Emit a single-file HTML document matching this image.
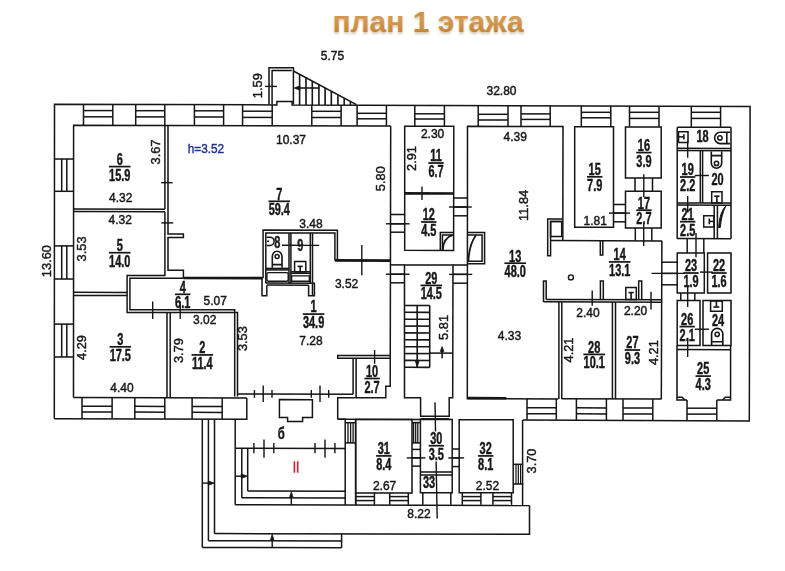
<!DOCTYPE html>
<html><head><meta charset="utf-8"><title>план 1 этажа</title>
<style>
html,body{margin:0;padding:0;background:#fff;}
body{width:785px;height:571px;overflow:hidden;position:relative;font-family:"Liberation Sans",sans-serif;}
svg{position:absolute;left:0;top:0;display:block;}
svg text{font-family:"Liberation Sans",sans-serif;fill:#161616;}
text.d{stroke:#161616;stroke-width:0.42px;}
text.b{stroke:#161616;stroke-width:0.45px;}
</style></head><body>
<svg width="785" height="571" viewBox="0 0 785 571">
<defs>
<linearGradient id="tg" x1="0" y1="0" x2="0" y2="1">
<stop offset="0" stop-color="#b87a30"/><stop offset="0.4" stop-color="#d69b50"/><stop offset="0.75" stop-color="#c98a3c"/><stop offset="1" stop-color="#ad6f26"/>
</linearGradient>
<filter id="bl" x="-2%" y="-2%" width="104%" height="104%" filterUnits="userSpaceOnUse" primitiveUnits="userSpaceOnUse"><feGaussianBlur stdDeviation="0.38"/></filter>
<filter id="sh" x="-5%" y="-20%" width="110%" height="150%"><feGaussianBlur stdDeviation="1.2"/></filter>
</defs>
<rect x="0" y="0" width="785" height="571" fill="#ffffff"/>
<text x="428" y="33.6" text-anchor="middle" font-size="30" font-weight="bold" style="fill:#c9b9a0" opacity="0.8" filter="url(#sh)">план 1 этажа</text>
<text x="428" y="32.3" text-anchor="middle" font-size="30" font-weight="bold" style="fill:url(#tg)">план 1 этажа</text>
<g filter="url(#bl)">
<g stroke="#141414" fill="none" stroke-linecap="butt" stroke-linejoin="miter">
<path d="M54.3 418.8 L54.5 104.3 L276.9 104.9 L276.9 101.4 L292.1 101.4 L292.1 105.0 L750.1 106.4 L749.3 420.9 L522.8 420.0" stroke-width="1.5" fill="none"/>
<path d="M54.3 418.8 L246.8 419.3 L246.8 398.0" stroke-width="1.5" fill="none"/>
<path d="M73.5 397.6 L73.6 125.2 L390.7 126.1" stroke-width="1.5" fill="none"/>
<path d="M73.5 397.6 L246.8 398.1" stroke-width="1.5" fill="none"/>
<path d="M83.5 104.5 L83.5 125.1" stroke-width="1.5" fill="none"/>
<path d="M112.8 104.5 L112.8 125.1" stroke-width="1.5" fill="none"/>
<path d="M83.5 110.6 L112.8 110.6" stroke-width="1.5" fill="none"/>
<path d="M83.5 116.8 L112.8 116.8" stroke-width="1.5" fill="none"/>
<path d="M135.7 104.6 L135.7 125.3" stroke-width="1.5" fill="none"/>
<path d="M164.8 104.6 L164.8 125.3" stroke-width="1.5" fill="none"/>
<path d="M135.7 110.7 L164.8 110.7" stroke-width="1.5" fill="none"/>
<path d="M135.7 116.9 L164.8 116.9" stroke-width="1.5" fill="none"/>
<path d="M194.4 104.8 L194.4 125.5" stroke-width="1.5" fill="none"/>
<path d="M223.6 104.8 L223.6 125.5" stroke-width="1.5" fill="none"/>
<path d="M194.4 110.8 L223.6 110.8" stroke-width="1.5" fill="none"/>
<path d="M194.4 117.0 L223.6 117.0" stroke-width="1.5" fill="none"/>
<path d="M242.6 104.9 L242.6 125.6" stroke-width="1.5" fill="none"/>
<path d="M272.2 104.9 L272.2 125.6" stroke-width="1.5" fill="none"/>
<path d="M242.6 111.2 L272.2 111.2" stroke-width="1.5" fill="none"/>
<path d="M242.6 117.4 L272.2 117.4" stroke-width="1.5" fill="none"/>
<path d="M311.8 105.1 L311.8 125.8" stroke-width="1.5" fill="none"/>
<path d="M341.1 105.1 L341.1 125.8" stroke-width="1.5" fill="none"/>
<path d="M311.8 111.3 L341.1 111.3" stroke-width="1.5" fill="none"/>
<path d="M311.8 117.5 L341.1 117.5" stroke-width="1.5" fill="none"/>
<path d="M357.1 105.3 L357.1 125.9" stroke-width="1.5" fill="none"/>
<path d="M386.4 105.3 L386.4 125.9" stroke-width="1.5" fill="none"/>
<path d="M357.1 113.3 L386.4 113.3" stroke-width="1.5" fill="none"/>
<path d="M357.1 118.8 L386.4 118.8" stroke-width="1.5" fill="none"/>
<path d="M414.8 105.4 L414.8 126.1" stroke-width="1.5" fill="none"/>
<path d="M444.4 105.4 L444.4 126.1" stroke-width="1.5" fill="none"/>
<path d="M414.8 113.8 L444.4 113.8" stroke-width="1.5" fill="none"/>
<path d="M414.8 119.0 L444.4 119.0" stroke-width="1.5" fill="none"/>
<path d="M478.2 105.6 L478.2 126.3" stroke-width="1.5" fill="none"/>
<path d="M508.0 105.6 L508.0 126.3" stroke-width="1.5" fill="none"/>
<path d="M478.2 114.3 L508.0 114.3" stroke-width="1.5" fill="none"/>
<path d="M478.2 120.0 L508.0 120.0" stroke-width="1.5" fill="none"/>
<path d="M521.0 105.8 L521.0 126.4" stroke-width="1.5" fill="none"/>
<path d="M550.2 105.8 L550.2 126.4" stroke-width="1.5" fill="none"/>
<path d="M521.0 113.9 L550.2 113.9" stroke-width="1.5" fill="none"/>
<path d="M521.0 119.4 L550.2 119.4" stroke-width="1.5" fill="none"/>
<path d="M581.3 105.9 L581.3 126.6" stroke-width="1.5" fill="none"/>
<path d="M610.8 105.9 L610.8 126.6" stroke-width="1.5" fill="none"/>
<path d="M581.3 112.3 L610.8 112.3" stroke-width="1.5" fill="none"/>
<path d="M581.3 117.8 L610.8 117.8" stroke-width="1.5" fill="none"/>
<path d="M629.5 106.1 L629.5 126.7" stroke-width="1.5" fill="none"/>
<path d="M659.0 106.1 L659.0 126.7" stroke-width="1.5" fill="none"/>
<path d="M629.5 112.3 L659.0 112.3" stroke-width="1.5" fill="none"/>
<path d="M629.5 118.4 L659.0 118.4" stroke-width="1.5" fill="none"/>
<path d="M691.3 106.2 L691.3 126.9" stroke-width="1.5" fill="none"/>
<path d="M720.6 106.2 L720.6 126.9" stroke-width="1.5" fill="none"/>
<path d="M691.3 112.3 L720.6 112.3" stroke-width="1.5" fill="none"/>
<path d="M691.3 118.4 L720.6 118.4" stroke-width="1.5" fill="none"/>
<path d="M54.3 159.0 L73.4 159.0" stroke-width="1.5" fill="none"/>
<path d="M54.3 191.3 L73.4 191.3" stroke-width="1.5" fill="none"/>
<path d="M61.7 159.0 L61.7 191.3" stroke-width="1.5" fill="none"/>
<path d="M66.8 159.0 L66.8 191.3" stroke-width="1.5" fill="none"/>
<path d="M54.3 245.9 L73.4 245.9" stroke-width="1.5" fill="none"/>
<path d="M54.3 279.0 L73.4 279.0" stroke-width="1.5" fill="none"/>
<path d="M61.7 245.9 L61.7 279.0" stroke-width="1.5" fill="none"/>
<path d="M66.8 245.9 L66.8 279.0" stroke-width="1.5" fill="none"/>
<path d="M54.3 324.1 L73.4 324.1" stroke-width="1.5" fill="none"/>
<path d="M54.3 357.0 L73.4 357.0" stroke-width="1.5" fill="none"/>
<path d="M61.7 324.1 L61.7 357.0" stroke-width="1.5" fill="none"/>
<path d="M66.8 324.1 L66.8 357.0" stroke-width="1.5" fill="none"/>
<path d="M82.0 397.6 L82.0 418.8" stroke-width="1.5" fill="none"/>
<path d="M112.1 397.6 L112.1 418.8" stroke-width="1.5" fill="none"/>
<path d="M82.0 406.2 L112.1 406.3" stroke-width="1.5" fill="none"/>
<path d="M82.0 412.0 L112.1 412.1" stroke-width="1.5" fill="none"/>
<path d="M134.8 397.8 L134.8 419.0" stroke-width="1.5" fill="none"/>
<path d="M164.8 397.8 L164.8 419.0" stroke-width="1.5" fill="none"/>
<path d="M134.8 406.3 L164.8 406.4" stroke-width="1.5" fill="none"/>
<path d="M134.8 412.1 L164.8 412.2" stroke-width="1.5" fill="none"/>
<path d="M192.1 397.9 L192.1 419.1" stroke-width="1.5" fill="none"/>
<path d="M222.2 397.9 L222.2 419.1" stroke-width="1.5" fill="none"/>
<path d="M192.1 406.5 L222.2 406.6" stroke-width="1.5" fill="none"/>
<path d="M192.1 412.3 L222.2 412.4" stroke-width="1.5" fill="none"/>
<path d="M527.0 398.8 L527.0 419.9" stroke-width="1.5" fill="none"/>
<path d="M556.3 398.8 L556.3 419.9" stroke-width="1.5" fill="none"/>
<path d="M527.0 407.7 L556.3 407.8" stroke-width="1.5" fill="none"/>
<path d="M527.0 413.7 L556.3 413.8" stroke-width="1.5" fill="none"/>
<path d="M576.4 399.0 L576.4 420.1" stroke-width="1.5" fill="none"/>
<path d="M606.4 399.0 L606.4 420.1" stroke-width="1.5" fill="none"/>
<path d="M576.4 407.8 L606.4 407.9" stroke-width="1.5" fill="none"/>
<path d="M576.4 413.8 L606.4 413.9" stroke-width="1.5" fill="none"/>
<path d="M623.0 399.1 L623.0 420.3" stroke-width="1.5" fill="none"/>
<path d="M652.8 399.1 L652.8 420.3" stroke-width="1.5" fill="none"/>
<path d="M623.0 408.0 L652.8 408.0" stroke-width="1.5" fill="none"/>
<path d="M623.0 414.0 L652.8 414.0" stroke-width="1.5" fill="none"/>
<path d="M687.0 400.0 L687.0 420.4" stroke-width="1.5" fill="none"/>
<path d="M716.8 400.0 L716.8 420.5" stroke-width="1.5" fill="none"/>
<path d="M687.0 408.2 L716.8 408.2" stroke-width="1.5" fill="none"/>
<path d="M687.0 414.1 L716.8 414.1" stroke-width="1.5" fill="none"/>
<path d="M269.0 104.3 L269.0 67.7 L293.4 67.7 L293.4 104.4" stroke-width="1.5" fill="none"/>
<path d="M272.1 104.3 L272.1 70.5 L291.8 70.5" stroke-width="1.5" fill="none"/>
<path d="M293.4 71.0 L356.4 104.7" stroke-width="1.5" fill="none"/>
<path d="M299.6 74.3 L299.6 105.0" stroke-width="1.6" fill="none"/>
<path d="M306.0 77.7 L306.0 105.0" stroke-width="1.6" fill="none"/>
<path d="M312.3 81.1 L312.3 105.0" stroke-width="1.6" fill="none"/>
<path d="M318.9 84.6 L318.9 105.0" stroke-width="1.6" fill="none"/>
<path d="M325.1 88.0 L325.1 105.0" stroke-width="1.6" fill="none"/>
<path d="M331.3 91.3 L331.3 105.0" stroke-width="1.6" fill="none"/>
<path d="M337.9 94.8 L337.9 105.0" stroke-width="1.6" fill="none"/>
<path d="M344.2 98.2 L344.2 105.0" stroke-width="1.6" fill="none"/>
<path d="M350.4 101.5 L350.4 105.0" stroke-width="1.6" fill="none"/>
<path d="M296.0 88.0 L319.5 88.0" stroke-width="1.5" fill="none"/>
<path d="M294.2 88.0 L300.0 85.8 L300.0 90.2 Z" stroke-width="0.8" fill="#141414"/>
<path d="M265.0 86.4 L277.0 86.4" stroke-width="1.4" fill="none"/>
<path d="M73.4 209.0 L164.9 209.2" stroke-width="1.5" fill="none"/>
<path d="M73.4 211.6 L164.9 211.8" stroke-width="1.5" fill="none"/>
<path d="M164.9 125.4 L164.9 209.1" stroke-width="1.5" fill="none"/>
<path d="M164.9 211.7 L164.9 275.4 L127.1 275.4 L127.1 312.5 L237.5 312.5 L237.5 396.4" stroke-width="1.5" fill="none"/>
<path d="M168.0 125.4 L168.0 234.0 L183.4 234.0 L183.4 237.6 L168.0 237.6 L168.0 270.2 L183.4 270.2 L183.4 278.2" stroke-width="1.5" fill="none"/>
<path d="M161.4 222.9 L173.2 222.9" stroke-width="1.4" fill="none"/>
<path d="M161.2 182.7 L172.6 182.7" stroke-width="1.4" fill="none"/>
<path d="M73.4 292.3 L127.1 292.5" stroke-width="1.5" fill="none"/>
<path d="M73.4 295.4 L127.1 295.6" stroke-width="1.5" fill="none"/>
<path d="M183.4 278.2 L129.9 278.2 L129.9 309.7 L234.7 309.7 L234.7 396.4" stroke-width="1.5" fill="none"/>
<path d="M183.4 278.0 L262.0 278.2" stroke-width="2.7" fill="none"/>
<path d="M152.7 301.4 L152.7 319.1" stroke-width="1.4" fill="none"/>
<path d="M180.2 301.4 L180.2 319.1" stroke-width="1.4" fill="none"/>
<path d="M167.0 312.5 L167.0 397.5" stroke-width="1.5" fill="none"/>
<path d="M170.2 312.5 L170.2 397.5" stroke-width="1.5" fill="none"/>
<path d="M263.1 278.0 L263.1 230.1 L337.4 230.2 L337.4 260.4" stroke-width="1.5" fill="none"/>
<path d="M265.8 283.2 L265.8 233.1 L334.9 233.1 L334.9 260.4" stroke-width="1.5" fill="none"/>
<path d="M334.9 260.4 L390.4 260.6" stroke-width="2.7" fill="none"/>
<path d="M361.8 245.0 L361.8 275.3" stroke-width="1.4" fill="none"/>
<path d="M289.0 233.1 L289.0 283.2" stroke-width="1.5" fill="none"/>
<path d="M290.9 233.1 L290.9 283.2" stroke-width="1.5" fill="none"/>
<path d="M310.3 233.1 L310.3 283.2" stroke-width="1.5" fill="none"/>
<path d="M312.5 233.1 L312.5 295.7" stroke-width="1.5" fill="none"/>
<path d="M265.8 268.4 L289.0 268.4" stroke-width="1.5" fill="none"/>
<path d="M265.8 269.9 L289.0 269.9" stroke-width="1.5" fill="none"/>
<path d="M290.9 271.8 L310.3 271.8" stroke-width="1.5" fill="none"/>
<path d="M290.9 273.3 L310.3 273.3" stroke-width="1.5" fill="none"/>
<rect x="266.9" y="272.6" width="21.3" height="8.6" rx="1.5" stroke-width="1.4" fill="none"/>
<path d="M291.6 275.9 L309.4 275.9 L309.4 281.2 L291.6 281.2 Z" stroke-width="1.4" fill="none"/>
<path d="M265.8 283.1 L312.5 283.3" stroke-width="1.5" fill="none"/>
<path d="M266.8 285.1 L308.6 285.3" stroke-width="1.5" fill="none"/>
<path d="M263.1 278.0 L262.0 278.0 L262.0 295.7 L266.8 295.7 L266.8 285.2" stroke-width="1.5" fill="none"/>
<path d="M308.6 285.2 L308.6 295.7 L314.4 295.7 L314.4 283.2 L312.5 283.2" stroke-width="1.5" fill="none"/>
<path d="M282.0 245.2 L319.2 245.4" stroke-width="1.4" fill="none"/>
<path d="M266.6 237.2 H270 A4.1 4.1 0 0 1 270 245.4 H266.6" stroke-width="1.5" fill="none"/>
<circle cx="268" cy="241.3" r="1.0" fill="#141414" stroke="none"/>
<path d="M272.3 267.8 V256.4 A4.85 5.1 0 0 1 282 256.4 V267.8 M272.3 264.6 H282" stroke-width="1.6" fill="none"/>
<circle cx="277.1" cy="256.6" r="2.0" stroke-width="1.5" fill="none"/>
<path d="M294.6 261.4 L305.8 261.4 L305.8 272.0 L294.6 272.0 Z" stroke-width="1.5" fill="none"/>
<path d="M297.6 266.4 L302.8 266.4" stroke-width="1.6" fill="none"/>
<path d="M300.2 266.4 L300.2 272.0" stroke-width="1.6" fill="none"/>
<path d="M390.7 126.1 L390.2 386.2 L385.8 386.2 L385.8 397.8 L337.7 397.8 L337.7 419.3" stroke-width="1.5" fill="none"/>
<path d="M337.7 419.3 L420.5 419.5" stroke-width="1.5" fill="none"/>
<path d="M237.5 393.9 L353.3 394.3" stroke-width="1.5" fill="none"/>
<path d="M254.4 390.0 L254.4 397.8" stroke-width="1.4" fill="none"/>
<path d="M272.0 390.0 L272.0 397.8" stroke-width="1.4" fill="none"/>
<path d="M311.3 390.0 L311.3 397.8" stroke-width="1.4" fill="none"/>
<path d="M328.7 390.0 L328.7 397.8" stroke-width="1.4" fill="none"/>
<path d="M263.2 385.4 L263.2 402.0" stroke-width="1.4" fill="none"/>
<path d="M320.0 385.4 L320.0 402.0" stroke-width="1.4" fill="none"/>
<path d="M390.0 355.5 L337.7 355.5 L337.7 358.3 L390.0 358.3" stroke-width="1.5" fill="none"/>
<path d="M353.1 358.3 L353.1 393.9" stroke-width="1.5" fill="none"/>
<path d="M356.1 358.3 L356.1 397.8" stroke-width="1.5" fill="none"/>
<path d="M374.6 350.0 L374.6 363.8" stroke-width="1.4" fill="none"/>
<path d="M404.7 250.3 L404.7 126.2 L453.8 126.3 L453.6 250.4 Z" stroke-width="1.5" fill="none"/>
<path d="M404.7 193.3 L453.8 193.5" stroke-width="2.7" fill="none"/>
<path d="M422.0 186.5 L422.0 199.9" stroke-width="1.4" fill="none"/>
<path d="M404.5 264.9 L404.5 397.8 L420.6 397.8 L420.6 416.2 L449.2 416.2 L449.2 397.8 L452.7 397.8 L453.0 265.1 Z" stroke-width="1.5" fill="none"/>
<path d="M420.6 418.8 L449.2 418.8" stroke-width="1.5" fill="none"/>
<path d="M390.5 214.5 L404.6 214.5" stroke-width="1.5" fill="none"/>
<path d="M390.5 223.8 L404.6 223.8" stroke-width="1.5" fill="none"/>
<path d="M390.5 232.2 L404.6 232.2" stroke-width="1.5" fill="none"/>
<path d="M385.9 223.8 L409.6 223.8" stroke-width="1.4" fill="none"/>
<path d="M390.4 274.2 L404.5 274.2" stroke-width="1.5" fill="none"/>
<path d="M390.4 282.8 L404.5 282.8" stroke-width="1.5" fill="none"/>
<path d="M390.4 264.9 L404.5 264.9" stroke-width="1.5" fill="none"/>
<path d="M385.9 274.2 L409.6 274.2" stroke-width="1.4" fill="none"/>
<path d="M453.7 198.0 L467.6 198.0" stroke-width="1.5" fill="none"/>
<path d="M453.7 207.0 L467.6 207.0" stroke-width="1.5" fill="none"/>
<path d="M453.7 215.8 L467.6 215.8" stroke-width="1.5" fill="none"/>
<path d="M449.0 207.0 L471.8 207.0" stroke-width="1.4" fill="none"/>
<path d="M453.0 265.0 L467.6 265.0" stroke-width="1.5" fill="none"/>
<path d="M453.0 274.3 L467.6 274.3" stroke-width="1.5" fill="none"/>
<path d="M453.0 283.2 L467.6 283.2" stroke-width="1.5" fill="none"/>
<path d="M449.2 274.4 L472.2 274.4" stroke-width="1.4" fill="none"/>
<path d="M453.6 232.6 L440.3 232.6 L440.3 250.3" stroke-width="1.5" fill="none"/>
<path d="M453.6 234.9 L442.4 234.9 L442.4 250.3" stroke-width="1.5" fill="none"/>
<path d="M442.8 250 Q443.3 238 452.5 235.2" stroke-width="1.8" fill="none"/>
<path d="M467.6 232.6 L484.6 232.6 L484.6 263.7 L467.6 263.7" stroke-width="1.5" fill="none"/>
<path d="M467.6 234.9 L482.1 234.9 L482.1 261.2 L467.6 261.2" stroke-width="1.5" fill="none"/>
<path d="M468.4 261 Q469.2 244 476 235.2" stroke-width="1.8" fill="none"/>
<path d="M404.6 305.5 L429.7 305.5" stroke-width="1.6" fill="none"/>
<path d="M404.6 312.3 L429.7 312.4" stroke-width="1.6" fill="none"/>
<path d="M404.6 319.2 L429.7 319.3" stroke-width="1.6" fill="none"/>
<path d="M404.6 326.1 L429.7 326.1" stroke-width="1.6" fill="none"/>
<path d="M404.6 332.9 L429.7 333.0" stroke-width="1.6" fill="none"/>
<path d="M404.6 339.8 L429.7 339.9" stroke-width="1.6" fill="none"/>
<path d="M404.6 346.7 L429.7 346.8" stroke-width="1.6" fill="none"/>
<path d="M404.6 353.6 L429.7 353.6" stroke-width="1.6" fill="none"/>
<path d="M404.6 360.4 L429.7 360.5" stroke-width="1.6" fill="none"/>
<path d="M404.6 367.3 L429.7 367.4" stroke-width="1.6" fill="none"/>
<path d="M417.2 305.5 L417.2 367.3" stroke-width="1.6" fill="none"/>
<path d="M429.7 305.5 L429.7 367.3" stroke-width="1.6" fill="none"/>
<path d="M417.2 367.3 L415.4 361.0 L419.0 361.0 Z" stroke-width="0.8" fill="#141414"/>
<path d="M429.7 353.1 L452.7 353.1" stroke-width="1.5" fill="none"/>
<path d="M442.1 349.0 L442.1 358.3" stroke-width="1.5" fill="none"/>
<path d="M442.1 346.6 L440.3 351.6 L443.9 351.6 Z" stroke-width="0.8" fill="#141414"/>
<path d="M558.3 398.9 L467.3 398.6 L467.5 126.3 L563.0 126.6 L562.8 240.8" stroke-width="1.5" fill="none"/>
<path d="M467.3 398.1 L506.3 398.3" stroke-width="2.6" fill="none"/>
<path d="M562.7 218.9 L547.7 218.9 L547.7 255.8 L550.6 255.8 L550.6 221.6 L561.7 221.6" stroke-width="1.5" fill="none"/>
<path d="M550.6 221.6 L561.7 221.6 L561.7 236.6 L550.6 236.6 Z" stroke-width="1.5" fill="none"/>
<path d="M550.6 240.6 L661.9 241.0" stroke-width="1.5" fill="none"/>
<path d="M661.9 240.8 L661.3 399.0" stroke-width="1.5" fill="none"/>
<path d="M546.2 299.4 L661.7 299.8" stroke-width="1.5" fill="none"/>
<path d="M543.5 301.8 L661.7 302.2" stroke-width="1.5" fill="none"/>
<path d="M543.5 302.0 L543.5 281.0 L546.2 281.0 L546.2 299.6" stroke-width="1.5" fill="none"/>
<path d="M600.3 240.8 L600.3 254.9 L602.8 254.9 L602.8 240.8" stroke-width="1.5" fill="none"/>
<path d="M600.4 299.6 L600.4 281.0 L603.3 281.0 L603.3 299.6" stroke-width="1.5" fill="none"/>
<path d="M638.7 299.6 L638.7 281.0 L641.7 281.0 L641.7 299.6" stroke-width="1.5" fill="none"/>
<path d="M625.8 287.5 L636.3 287.5 L636.3 299.6 L625.8 299.6 Z" stroke-width="1.5" fill="none"/>
<path d="M628.5 292.6 L633.7 292.6" stroke-width="1.6" fill="none"/>
<path d="M631.1 292.6 L631.1 299.6" stroke-width="1.6" fill="none"/>
<circle cx="570.9" cy="277.4" r="2.5" stroke-width="1.4" fill="none"/>
<path d="M592.2 290.4 L592.2 305.7" stroke-width="1.4" fill="none"/>
<path d="M651.0 291.7 L651.0 309.6" stroke-width="1.4" fill="none"/>
<path d="M558.9 302.0 L558.9 398.9" stroke-width="1.5" fill="none"/>
<path d="M561.8 302.0 L561.8 398.9" stroke-width="1.5" fill="none"/>
<path d="M612.4 302.0 L612.4 398.8" stroke-width="1.5" fill="none"/>
<path d="M615.5 302.0 L615.5 398.8" stroke-width="1.5" fill="none"/>
<path d="M561.8 398.7 L661.7 398.9" stroke-width="1.5" fill="none"/>
<path d="M661.7 262.2 L677.2 262.2" stroke-width="1.5" fill="none"/>
<path d="M661.7 273.4 L677.2 273.4" stroke-width="1.5" fill="none"/>
<path d="M661.7 284.8 L677.2 284.8" stroke-width="1.5" fill="none"/>
<path d="M651.5 273.4 L684.6 273.4" stroke-width="1.4" fill="none"/>
<path d="M574.7 126.7 L613.5 126.7 L613.5 227.2 L574.7 227.2 Z" stroke-width="1.5" fill="none"/>
<path d="M625.5 126.9 L661.2 126.9 L661.2 178.1 L625.5 178.1 Z" stroke-width="1.5" fill="none"/>
<path d="M625.5 191.3 L661.2 191.3 L661.2 228.0 L625.5 228.0 Z" stroke-width="1.5" fill="none"/>
<path d="M635.0 178.1 L635.0 191.3" stroke-width="1.5" fill="none"/>
<path d="M652.5 178.1 L652.5 191.3" stroke-width="1.5" fill="none"/>
<path d="M643.8 174.3 L643.8 197.2" stroke-width="1.4" fill="none"/>
<path d="M613.5 204.5 L625.5 204.5" stroke-width="1.5" fill="none"/>
<path d="M613.5 213.1 L625.5 213.1" stroke-width="1.5" fill="none"/>
<path d="M613.5 221.8 L625.5 221.8" stroke-width="1.5" fill="none"/>
<path d="M609.0 213.1 L630.0 213.1" stroke-width="1.4" fill="none"/>
<path d="M635.3 228.0 L635.3 240.8" stroke-width="1.5" fill="none"/>
<path d="M651.8 228.0 L651.8 240.8" stroke-width="1.5" fill="none"/>
<path d="M643.7 222.9 L643.7 245.9" stroke-width="1.4" fill="none"/>
<path d="M677.2 127.2 L677.2 238.7" stroke-width="1.5" fill="none"/>
<path d="M731.0 127.3 L731.0 238.7" stroke-width="1.5" fill="none"/>
<path d="M677.2 127.2 L731.0 127.3" stroke-width="1.5" fill="none"/>
<path d="M677.2 148.3 L731.0 148.5" stroke-width="1.5" fill="none"/>
<path d="M677.2 150.5 L731.0 150.7" stroke-width="1.5" fill="none"/>
<path d="M700.3 150.6 L700.3 203.0" stroke-width="1.5" fill="none"/>
<path d="M702.6 150.6 L702.6 203.0" stroke-width="1.5" fill="none"/>
<path d="M677.2 202.9 L731.0 203.1" stroke-width="1.5" fill="none"/>
<path d="M677.2 205.1 L731.0 205.3" stroke-width="1.5" fill="none"/>
<path d="M677.2 238.6 L731.0 238.8" stroke-width="1.5" fill="none"/>
<path d="M687.7 141.0 L687.7 157.7" stroke-width="1.4" fill="none"/>
<path d="M694.8 175.5 L708.9 175.5" stroke-width="1.4" fill="none"/>
<path d="M687.7 196.0 L687.7 212.5" stroke-width="1.4" fill="none"/>
<path d="M687.2 238.7 L687.2 253.0" stroke-width="1.5" fill="none"/>
<path d="M703.8 238.7 L703.8 253.0" stroke-width="1.5" fill="none"/>
<path d="M696.0 233.1 L696.0 257.3" stroke-width="1.4" fill="none"/>
<path d="M677.2 253.0 L704.3 253.0 L704.3 293.0 L677.2 293.0 Z" stroke-width="1.5" fill="none"/>
<path d="M707.6 253.0 L731.0 253.0 L731.0 293.0 L707.6 293.0 Z" stroke-width="1.5" fill="none"/>
<path d="M700.0 272.1 L712.7 272.1" stroke-width="1.4" fill="none"/>
<path d="M680.8 293.0 L680.8 300.6" stroke-width="1.5" fill="none"/>
<path d="M694.8 293.0 L694.8 300.6" stroke-width="1.5" fill="none"/>
<path d="M687.7 286.6 L687.7 307.0" stroke-width="1.4" fill="none"/>
<path d="M677.2 300.6 L700.0 300.6 L700.0 345.6 L677.2 345.6 Z" stroke-width="1.5" fill="none"/>
<path d="M703.0 300.6 L731.0 300.6 L731.0 345.6 L703.0 345.6 Z" stroke-width="1.5" fill="none"/>
<path d="M694.8 329.2 L708.9 329.2" stroke-width="1.4" fill="none"/>
<path d="M677.0 345.6 L677.0 400.0 L687.0 400.0" stroke-width="1.5" fill="none"/>
<path d="M730.6 345.6 L730.6 400.0 L716.8 400.0" stroke-width="1.5" fill="none"/>
<path d="M677.0 349.5 L730.6 349.7" stroke-width="1.5" fill="none"/>
<path d="M687.7 337.8 L687.7 357.0" stroke-width="1.4" fill="none"/>
<path d="M677.0 397.3 L682.0 397.3 L685.0 400.0" stroke-width="1.5" fill="none"/>
<path d="M730.6 397.3 L725.4 397.3 L722.4 400.0" stroke-width="1.5" fill="none"/>
<path d="M678.5 131.8 L688.0 131.8 L688.0 142.5 L678.5 142.5 Z" stroke-width="1.5" fill="none"/>
<path d="M678.5 136.9 L683.9 136.9" stroke-width="1.5" fill="none"/>
<path d="M683.9 134.2 L683.9 139.4" stroke-width="1.6" fill="none"/>
<path d="M726.8 132.2 H720.3 A5.7 5.7 0 0 0 720.3 143.6 H726.8 M726.8 132.2 V143.6 M726.8 132.2 H730.2 M726.8 143.6 H730.2" stroke-width="1.6" fill="none"/>
<circle cx="719.9" cy="137.9" r="2.2" stroke-width="1.5" fill="none"/>
<path d="M711.3 151.5 V163 A5.2 5.2 0 0 0 721.7 163 V151.5 M711.3 155.6 H721.7" stroke-width="1.6" fill="none"/>
<circle cx="716.5" cy="163.4" r="2.1" stroke-width="1.5" fill="none"/>
<path d="M711.7 191.8 L722.0 191.8 L722.0 203.0 L711.7 203.0 Z" stroke-width="1.5" fill="none"/>
<path d="M714.2 196.2 L719.6 196.2" stroke-width="1.6" fill="none"/>
<path d="M716.9 196.2 L716.9 203.0" stroke-width="1.6" fill="none"/>
<path d="M703.7 215.7 L714.0 215.7 L714.0 227.0 L703.7 227.0 Z" stroke-width="1.5" fill="none"/>
<path d="M709.3 221.4 L714.0 221.4" stroke-width="1.5" fill="none"/>
<path d="M709.3 218.5 L709.3 224.3" stroke-width="1.6" fill="none"/>
<path d="M714.2 205.2 L714.2 238.7" stroke-width="1.5" fill="none"/>
<path d="M717.4 205.2 L717.4 238.7" stroke-width="1.5" fill="none"/>
<path d="M718.6 227.5 Q719.5 212 726 205.8 Q721.5 214 720.3 227.5 Z" stroke-width="1.0" fill="#141414"/>
<path d="M710.6 301.0 L722.3 301.0 L722.3 311.2 L710.6 311.2 Z" stroke-width="1.5" fill="none"/>
<path d="M716.4 301.0 L716.4 306.8" stroke-width="1.6" fill="none"/>
<path d="M713.3 307.0 L719.3 307.0" stroke-width="1.6" fill="none"/>
<path d="M711.6 345.6 V334 A5.6 5.6 0 0 1 722.8 334 V345.6 M711.6 341.7 H722.8" stroke-width="1.6" fill="none"/>
<circle cx="717.2" cy="334.3" r="2.1" stroke-width="1.5" fill="none"/>
<path d="M202.3 419.1 L202.3 547.4" stroke-width="1.5" fill="none"/>
<path d="M208.4 419.1 L208.4 540.7" stroke-width="1.5" fill="none"/>
<path d="M214.5 419.1 L214.5 533.6" stroke-width="1.5" fill="none"/>
<path d="M202.3 547.4 L341.6 547.8" stroke-width="1.5" fill="none"/>
<path d="M208.4 540.7 L341.6 541.1" stroke-width="1.5" fill="none"/>
<path d="M214.5 533.6 L529.5 534.2 L529.5 505.5" stroke-width="1.5" fill="none"/>
<path d="M341.6 533.8 L341.6 547.8" stroke-width="1.5" fill="none"/>
<path d="M202.3 483.1 L210.0 483.1" stroke-width="1.4" fill="none"/>
<path d="M214.4 483.1 L208.4 481.0 L208.4 485.2 Z" stroke-width="0.8" fill="#141414"/>
<path d="M272.2 539.0 L272.2 547.6" stroke-width="1.4" fill="none"/>
<path d="M272.2 534.3 L270.5 540.0 L273.9 540.0 Z" stroke-width="0.8" fill="#141414"/>
<path d="M235.2 419.2 L235.2 504.8" stroke-width="1.5" fill="none"/>
<path d="M241.8 448.2 L241.8 497.7" stroke-width="1.5" fill="none"/>
<path d="M247.7 448.2 L247.7 490.9" stroke-width="1.5" fill="none"/>
<path d="M235.2 504.7 L529.5 505.5" stroke-width="1.5" fill="none"/>
<path d="M241.8 497.8 L345.2 498.0" stroke-width="1.5" fill="none"/>
<path d="M247.7 491.1 L345.2 491.3" stroke-width="1.5" fill="none"/>
<path d="M235.2 476.2 L242.5 476.2" stroke-width="1.4" fill="none"/>
<path d="M247.3 476.2 L241.3 474.1 L241.3 478.3 Z" stroke-width="0.8" fill="#141414"/>
<path d="M291.3 496.5 L291.3 504.8" stroke-width="1.4" fill="none"/>
<path d="M291.3 491.7 L289.6 497.4 L293.0 497.4 Z" stroke-width="0.8" fill="#141414"/>
<path d="M235.2 448.2 L345.2 448.4" stroke-width="1.5" fill="none"/>
<path d="M253.9 443.1 L253.9 453.3" stroke-width="1.4" fill="none"/>
<path d="M273.8 443.1 L273.8 453.3" stroke-width="1.4" fill="none"/>
<path d="M315.0 443.1 L315.0 453.3" stroke-width="1.4" fill="none"/>
<path d="M334.9 443.1 L334.9 453.3" stroke-width="1.4" fill="none"/>
<path d="M264.0 439.5 L264.0 457.8" stroke-width="1.4" fill="none"/>
<path d="M325.0 439.5 L325.0 457.8" stroke-width="1.4" fill="none"/>
<path d="M279.4 399.6 L312.4 399.7 L312.4 417.6 L302.6 417.6 L302.6 421.5 L287.6 421.5 L287.6 417.5 L279.4 417.5 Z" stroke-width="1.5" fill="none"/>
<path d="M337.7 419.3 L345.2 419.3 L345.2 505.0" stroke-width="1.5" fill="none"/>
<path d="M355.6 419.4 L355.6 504.8" stroke-width="1.5" fill="none"/>
<path d="M345.2 442.9 L355.6 442.9" stroke-width="1.5" fill="none"/>
<path d="M345.2 422.7 L355.6 422.7" stroke-width="1.5" fill="none"/>
<path d="M348.0 422.7 L348.0 442.9" stroke-width="1.3" fill="none"/>
<path d="M350.6 422.7 L350.6 442.9" stroke-width="1.3" fill="none"/>
<path d="M353.1 422.7 L353.1 442.9" stroke-width="1.3" fill="none"/>
<path d="M355.7 419.6 L412.0 419.6 L412.0 493.0 L355.7 493.0 Z" stroke-width="1.5" fill="none"/>
<path d="M420.4 492.8 L420.4 419.4 L452.2 419.4 L452.2 492.8 Z" stroke-width="1.5" fill="none"/>
<path d="M420.4 472.0 L452.2 472.0" stroke-width="1.5" fill="none"/>
<path d="M420.4 475.0 L452.2 475.0" stroke-width="1.5" fill="none"/>
<path d="M459.2 419.7 L513.2 419.7 L513.2 492.8 L459.2 492.8 Z" stroke-width="1.5" fill="none"/>
<path d="M522.6 420.0 L522.6 505.4" stroke-width="1.5" fill="none"/>
<path d="M412.0 442.9 L420.6 442.9" stroke-width="1.5" fill="none"/>
<path d="M412.0 422.6 L420.6 422.6" stroke-width="1.5" fill="none"/>
<path d="M413.6 422.6 L413.6 442.9" stroke-width="1.3" fill="none"/>
<path d="M415.7 422.6 L415.7 442.9" stroke-width="1.3" fill="none"/>
<path d="M417.8 422.6 L417.8 442.9" stroke-width="1.3" fill="none"/>
<path d="M513.2 464.3 L523.2 464.3" stroke-width="1.5" fill="none"/>
<path d="M513.2 484.0 L523.2 484.0" stroke-width="1.5" fill="none"/>
<path d="M516.0 464.3 L516.0 484.0" stroke-width="1.2" fill="none"/>
<path d="M518.3 464.3 L518.3 484.0" stroke-width="1.2" fill="none"/>
<path d="M520.6 464.3 L520.6 484.0" stroke-width="1.2" fill="none"/>
<path d="M412.0 449.4 L420.6 449.4" stroke-width="1.5" fill="none"/>
<path d="M412.0 457.8 L420.6 457.8" stroke-width="1.5" fill="none"/>
<path d="M412.0 466.1 L420.6 466.1" stroke-width="1.5" fill="none"/>
<path d="M406.8 457.9 L425.4 457.9" stroke-width="1.4" fill="none"/>
<path d="M452.2 449.0 L459.2 449.0" stroke-width="1.5" fill="none"/>
<path d="M452.2 457.9 L459.2 457.9" stroke-width="1.5" fill="none"/>
<path d="M452.2 466.6 L459.2 466.6" stroke-width="1.5" fill="none"/>
<path d="M448.3 457.9 L464.1 457.9" stroke-width="1.4" fill="none"/>
<path d="M355.8 492.8 L355.8 504.8" stroke-width="1.5" fill="none"/>
<path d="M374.4 492.8 L374.4 504.8" stroke-width="1.5" fill="none"/>
<path d="M355.8 496.6 L374.4 496.6" stroke-width="1.5" fill="none"/>
<path d="M355.8 500.6 L374.4 500.6" stroke-width="1.5" fill="none"/>
<path d="M389.7 492.8 L389.7 504.8" stroke-width="1.5" fill="none"/>
<path d="M408.3 492.8 L408.3 504.8" stroke-width="1.5" fill="none"/>
<path d="M389.7 496.6 L408.3 496.6" stroke-width="1.5" fill="none"/>
<path d="M389.7 500.6 L408.3 500.6" stroke-width="1.5" fill="none"/>
<path d="M462.3 492.8 L462.3 504.8" stroke-width="1.5" fill="none"/>
<path d="M480.9 492.8 L480.9 504.8" stroke-width="1.5" fill="none"/>
<path d="M462.3 496.6 L480.9 496.6" stroke-width="1.5" fill="none"/>
<path d="M462.3 500.6 L480.9 500.6" stroke-width="1.5" fill="none"/>
<path d="M492.9 492.8 L492.9 504.8" stroke-width="1.5" fill="none"/>
<path d="M511.5 492.8 L511.5 504.8" stroke-width="1.5" fill="none"/>
<path d="M492.9 496.6 L511.5 496.6" stroke-width="1.5" fill="none"/>
<path d="M492.9 500.6 L511.5 500.6" stroke-width="1.5" fill="none"/>
<path d="M422.8 492.8 L422.8 504.8" stroke-width="1.5" fill="none"/>
<path d="M450.8 492.8 L450.8 504.8" stroke-width="1.5" fill="none"/>
<path d="M435.0 402.3 L435.5 431.5" stroke-width="1.4" fill="none"/>
<path d="M436.1 461.5 L437.2 518.5" stroke-width="1.4" fill="none"/>
<path d="M108.9 166.6 H130.5" stroke-width="1.7"/>
<path d="M108.9 252.7 H130.5" stroke-width="1.7"/>
<path d="M175.0 294.3 H190.4" stroke-width="1.7"/>
<path d="M109.5 346.8 H131.1" stroke-width="1.7"/>
<path d="M191.5 354.9 H213.1" stroke-width="1.7"/>
<path d="M268.5 201.3 H290.1" stroke-width="1.7"/>
<path d="M302.8 314.1 H324.4" stroke-width="1.7"/>
<path d="M364.4 378.5 H379.8" stroke-width="1.7"/>
<path d="M428.3 163.0 H443.7" stroke-width="1.7"/>
<path d="M421.1 222.0 H436.5" stroke-width="1.7"/>
<path d="M420.5 285.4 H442.1" stroke-width="1.7"/>
<path d="M504.4 263.2 H526.0" stroke-width="1.7"/>
<path d="M587.0 176.8 H602.4" stroke-width="1.7"/>
<path d="M636.2 152.6 H651.6" stroke-width="1.7"/>
<path d="M636.2 210.2 H651.6" stroke-width="1.7"/>
<path d="M608.9 261.9 H630.5" stroke-width="1.7"/>
<path d="M680.0 177.0 H695.4" stroke-width="1.7"/>
<path d="M680.0 221.7 H695.4" stroke-width="1.7"/>
<path d="M683.3 273.0 H698.7" stroke-width="1.7"/>
<path d="M711.3 273.0 H726.7" stroke-width="1.7"/>
<path d="M679.5 326.6 H694.9" stroke-width="1.7"/>
<path d="M695.5 376.1 H710.9" stroke-width="1.7"/>
<path d="M583.4 354.4 H605.0" stroke-width="1.7"/>
<path d="M624.7 350.0 H640.1" stroke-width="1.7"/>
<path d="M376.1 455.9 H391.5" stroke-width="1.7"/>
<path d="M428.6 445.7 H444.0" stroke-width="1.7"/>
<path d="M478.0 455.9 H493.4" stroke-width="1.7"/>
<path d="M294.4 461.3 V472.8 M297.7 461.3 V472.8" stroke="#d2232e" stroke-width="1.6"/>
</g>
<g>
<text class="d" x="332.5" y="55.5" text-anchor="middle" font-size="12.0" dy="0.36em">5.75</text>
<text class="d" x="501.5" y="90.6" text-anchor="middle" font-size="12.0" dy="0.36em">32.80</text>
<text class="d" transform="translate(258.0 85.7) rotate(-90) scale(1.07 1)" text-anchor="middle" font-size="12.0" dy="0.36em">1.59</text>
<text class="d" x="120.8" y="197.3" text-anchor="middle" font-size="12.0" dy="0.36em">4.32</text>
<text class="d" x="120.3" y="220.0" text-anchor="middle" font-size="12.0" dy="0.36em">4.32</text>
<text class="d" transform="translate(156.0 152.0) rotate(-90) scale(1.07 1)" text-anchor="middle" font-size="12.0" dy="0.36em">3.67</text>
<text class="d" x="291.0" y="139.6" text-anchor="middle" font-size="12.0" dy="0.36em">10.37</text>
<text class="d" transform="translate(380.9 178.7) rotate(-90) scale(1.07 1)" text-anchor="middle" font-size="12.0" dy="0.36em">5.80</text>
<text class="d" x="432.6" y="133.7" text-anchor="middle" font-size="12.0" dy="0.36em">2.30</text>
<text class="d" x="515.3" y="136.4" text-anchor="middle" font-size="12.0" dy="0.36em">4.39</text>
<text class="d" transform="translate(411.8 158.5) rotate(-90) scale(1.07 1)" text-anchor="middle" font-size="12.0" dy="0.36em">2.91</text>
<text class="d" transform="translate(523.4 205.4) rotate(-90) scale(1.07 1)" text-anchor="middle" font-size="12.0" dy="0.36em">11.84</text>
<text class="d" transform="translate(82.0 248.9) rotate(-90) scale(1.07 1)" text-anchor="middle" font-size="12.0" dy="0.36em">3.53</text>
<text class="d" transform="translate(46.4 261.1) rotate(-90) scale(1.07 1)" text-anchor="middle" font-size="12.0" dy="0.36em">13.60</text>
<text class="d" x="215.2" y="300.7" text-anchor="middle" font-size="12.0" dy="0.36em">5.07</text>
<text class="d" x="204.7" y="319.7" text-anchor="middle" font-size="12.0" dy="0.36em">3.02</text>
<text class="d" x="310.9" y="223.3" text-anchor="middle" font-size="12.0" dy="0.36em">3.48</text>
<text class="d" x="346.6" y="283.7" text-anchor="middle" font-size="12.0" dy="0.36em">3.52</text>
<text class="d" x="310.9" y="340.7" text-anchor="middle" font-size="12.0" dy="0.36em">7.28</text>
<text class="d" transform="translate(443.3 327.4) rotate(-90) scale(1.07 1)" text-anchor="middle" font-size="12.0" dy="0.36em">5.81</text>
<text class="d" x="509.5" y="335.8" text-anchor="middle" font-size="12.0" dy="0.36em">4.33</text>
<text class="d" x="587.9" y="312.8" text-anchor="middle" font-size="12.0" dy="0.36em">2.40</text>
<text class="d" x="635.6" y="310.9" text-anchor="middle" font-size="12.0" dy="0.36em">2.20</text>
<text class="d" x="595.2" y="220.7" text-anchor="middle" font-size="12.0" dy="0.36em">1.81</text>
<text class="d" transform="translate(82.0 347.5) rotate(-90) scale(1.07 1)" text-anchor="middle" font-size="12.0" dy="0.36em">4.29</text>
<text class="d" transform="translate(178.3 350.6) rotate(-90) scale(1.07 1)" text-anchor="middle" font-size="12.0" dy="0.36em">3.79</text>
<text class="d" x="122.0" y="387.5" text-anchor="middle" font-size="12.0" dy="0.36em">4.40</text>
<text class="d" transform="translate(242.4 338.6) rotate(-90) scale(1.07 1)" text-anchor="middle" font-size="12.0" dy="0.36em">3.53</text>
<text class="d" transform="translate(568.5 350.0) rotate(-90) scale(1.07 1)" text-anchor="middle" font-size="12.0" dy="0.36em">4.21</text>
<text class="d" transform="translate(654.0 352.6) rotate(-90) scale(1.07 1)" text-anchor="middle" font-size="12.0" dy="0.36em">4.21</text>
<text class="d" x="384.6" y="485.8" text-anchor="middle" font-size="12.0" dy="0.36em">2.67</text>
<text class="d" x="487.4" y="485.8" text-anchor="middle" font-size="12.0" dy="0.36em">2.52</text>
<text class="d" x="419.0" y="513.9" text-anchor="middle" font-size="12.0" dy="0.36em">8.22</text>
<text class="d" transform="translate(531.6 461.0) rotate(-90) scale(1.07 1)" text-anchor="middle" font-size="12.0" dy="0.36em">3.70</text>
<text transform="translate(119.7 164.9) scale(0.66 1)" class="b" text-anchor="middle" font-size="16.6" font-weight="bold">6</text>
<text transform="translate(119.7 180.6) scale(0.66 1)" class="b" text-anchor="middle" font-size="16.6" font-weight="bold">15.9</text>
<text transform="translate(119.7 251.0) scale(0.66 1)" class="b" text-anchor="middle" font-size="16.6" font-weight="bold">5</text>
<text transform="translate(119.7 266.7) scale(0.66 1)" class="b" text-anchor="middle" font-size="16.6" font-weight="bold">14.0</text>
<text transform="translate(182.7 292.6) scale(0.66 1)" class="b" text-anchor="middle" font-size="16.6" font-weight="bold">4</text>
<text transform="translate(182.7 308.3) scale(0.66 1)" class="b" text-anchor="middle" font-size="16.6" font-weight="bold">6.1</text>
<text transform="translate(120.3 345.1) scale(0.66 1)" class="b" text-anchor="middle" font-size="16.6" font-weight="bold">3</text>
<text transform="translate(120.3 360.8) scale(0.66 1)" class="b" text-anchor="middle" font-size="16.6" font-weight="bold">17.5</text>
<text transform="translate(202.3 353.2) scale(0.66 1)" class="b" text-anchor="middle" font-size="16.6" font-weight="bold">2</text>
<text transform="translate(202.3 368.9) scale(0.66 1)" class="b" text-anchor="middle" font-size="16.6" font-weight="bold">11.4</text>
<text transform="translate(279.3 199.6) scale(0.66 1)" class="b" text-anchor="middle" font-size="16.6" font-weight="bold">7</text>
<text transform="translate(279.3 215.3) scale(0.66 1)" class="b" text-anchor="middle" font-size="16.6" font-weight="bold">59.4</text>
<text transform="translate(313.6 312.4) scale(0.66 1)" class="b" text-anchor="middle" font-size="16.6" font-weight="bold">1</text>
<text transform="translate(313.6 328.1) scale(0.66 1)" class="b" text-anchor="middle" font-size="16.6" font-weight="bold">34.9</text>
<text transform="translate(372.1 376.8) scale(0.66 1)" class="b" text-anchor="middle" font-size="16.6" font-weight="bold">10</text>
<text transform="translate(372.1 392.5) scale(0.66 1)" class="b" text-anchor="middle" font-size="16.6" font-weight="bold">2.7</text>
<text transform="translate(436.0 161.3) scale(0.66 1)" class="b" text-anchor="middle" font-size="16.6" font-weight="bold">11</text>
<text transform="translate(436.0 177.0) scale(0.66 1)" class="b" text-anchor="middle" font-size="16.6" font-weight="bold">6.7</text>
<text transform="translate(428.8 220.3) scale(0.66 1)" class="b" text-anchor="middle" font-size="16.6" font-weight="bold">12</text>
<text transform="translate(428.8 236.0) scale(0.66 1)" class="b" text-anchor="middle" font-size="16.6" font-weight="bold">4.5</text>
<text transform="translate(431.3 283.7) scale(0.66 1)" class="b" text-anchor="middle" font-size="16.6" font-weight="bold">29</text>
<text transform="translate(431.3 299.4) scale(0.66 1)" class="b" text-anchor="middle" font-size="16.6" font-weight="bold">14.5</text>
<text transform="translate(515.2 261.5) scale(0.66 1)" class="b" text-anchor="middle" font-size="16.6" font-weight="bold">13</text>
<text transform="translate(515.2 277.2) scale(0.66 1)" class="b" text-anchor="middle" font-size="16.6" font-weight="bold">48.0</text>
<text transform="translate(594.7 175.1) scale(0.66 1)" class="b" text-anchor="middle" font-size="16.6" font-weight="bold">15</text>
<text transform="translate(594.7 190.8) scale(0.66 1)" class="b" text-anchor="middle" font-size="16.6" font-weight="bold">7.9</text>
<text transform="translate(643.9 150.9) scale(0.66 1)" class="b" text-anchor="middle" font-size="16.6" font-weight="bold">16</text>
<text transform="translate(643.9 166.6) scale(0.66 1)" class="b" text-anchor="middle" font-size="16.6" font-weight="bold">3.9</text>
<text transform="translate(643.9 208.5) scale(0.66 1)" class="b" text-anchor="middle" font-size="16.6" font-weight="bold">17</text>
<text transform="translate(643.9 224.2) scale(0.66 1)" class="b" text-anchor="middle" font-size="16.6" font-weight="bold">2.7</text>
<text transform="translate(619.7 260.2) scale(0.66 1)" class="b" text-anchor="middle" font-size="16.6" font-weight="bold">14</text>
<text transform="translate(619.7 275.9) scale(0.66 1)" class="b" text-anchor="middle" font-size="16.6" font-weight="bold">13.1</text>
<text transform="translate(687.7 175.3) scale(0.66 1)" class="b" text-anchor="middle" font-size="16.6" font-weight="bold">19</text>
<text transform="translate(687.7 191.0) scale(0.66 1)" class="b" text-anchor="middle" font-size="16.6" font-weight="bold">2.2</text>
<text transform="translate(687.7 220.0) scale(0.66 1)" class="b" text-anchor="middle" font-size="16.6" font-weight="bold">21</text>
<text transform="translate(687.7 235.7) scale(0.66 1)" class="b" text-anchor="middle" font-size="16.6" font-weight="bold">2.5</text>
<text transform="translate(691.0 271.3) scale(0.66 1)" class="b" text-anchor="middle" font-size="16.6" font-weight="bold">23</text>
<text transform="translate(691.0 287.0) scale(0.66 1)" class="b" text-anchor="middle" font-size="16.6" font-weight="bold">1.9</text>
<text transform="translate(719.0 271.3) scale(0.66 1)" class="b" text-anchor="middle" font-size="16.6" font-weight="bold">22</text>
<text transform="translate(719.0 287.0) scale(0.66 1)" class="b" text-anchor="middle" font-size="16.6" font-weight="bold">1.6</text>
<text transform="translate(687.2 324.9) scale(0.66 1)" class="b" text-anchor="middle" font-size="16.6" font-weight="bold">26</text>
<text transform="translate(687.2 340.6) scale(0.66 1)" class="b" text-anchor="middle" font-size="16.6" font-weight="bold">2.1</text>
<text transform="translate(703.2 374.4) scale(0.66 1)" class="b" text-anchor="middle" font-size="16.6" font-weight="bold">25</text>
<text transform="translate(703.2 390.1) scale(0.66 1)" class="b" text-anchor="middle" font-size="16.6" font-weight="bold">4.3</text>
<text transform="translate(594.2 352.7) scale(0.66 1)" class="b" text-anchor="middle" font-size="16.6" font-weight="bold">28</text>
<text transform="translate(594.2 368.4) scale(0.66 1)" class="b" text-anchor="middle" font-size="16.6" font-weight="bold">10.1</text>
<text transform="translate(632.4 348.3) scale(0.66 1)" class="b" text-anchor="middle" font-size="16.6" font-weight="bold">27</text>
<text transform="translate(632.4 364.0) scale(0.66 1)" class="b" text-anchor="middle" font-size="16.6" font-weight="bold">9.3</text>
<text transform="translate(383.8 454.2) scale(0.66 1)" class="b" text-anchor="middle" font-size="16.6" font-weight="bold">31</text>
<text transform="translate(383.8 469.9) scale(0.66 1)" class="b" text-anchor="middle" font-size="16.6" font-weight="bold">8.4</text>
<text transform="translate(436.3 444.0) scale(0.66 1)" class="b" text-anchor="middle" font-size="16.6" font-weight="bold">30</text>
<text transform="translate(436.3 459.7) scale(0.66 1)" class="b" text-anchor="middle" font-size="16.6" font-weight="bold">3.5</text>
<text transform="translate(485.7 454.2) scale(0.66 1)" class="b" text-anchor="middle" font-size="16.6" font-weight="bold">32</text>
<text transform="translate(485.7 469.9) scale(0.66 1)" class="b" text-anchor="middle" font-size="16.6" font-weight="bold">8.1</text>
<text transform="translate(702.5 142.0) scale(0.66 1)" class="b" text-anchor="middle" font-size="16.6" font-weight="bold">18</text>
<text transform="translate(717.5 184.5) scale(0.66 1)" class="b" text-anchor="middle" font-size="16.6" font-weight="bold">20</text>
<text transform="translate(718.0 326.0) scale(0.66 1)" class="b" text-anchor="middle" font-size="16.6" font-weight="bold">24</text>
<text transform="translate(429.0 488.2) scale(0.66 1)" class="b" text-anchor="middle" font-size="16.6" font-weight="bold">33</text>
<text transform="translate(277.2 248.3) scale(0.66 1)" class="b" text-anchor="middle" font-size="16.6" font-weight="bold">8</text>
<text transform="translate(300.4 251.3) scale(0.66 1)" class="b" text-anchor="middle" font-size="16.6" font-weight="bold">9</text>
<text transform="translate(281.3 438.8) scale(0.68 1)" class="b" text-anchor="middle" font-size="16.6" font-weight="bold">б</text>
<text transform="translate(187.7 152.8) scale(0.88 1)" font-size="13.4" style="fill:#1d2f8c;stroke:#1d2f8c;stroke-width:0.4px">h=3.52</text>
</g>
</g>
</svg>
</body></html>
